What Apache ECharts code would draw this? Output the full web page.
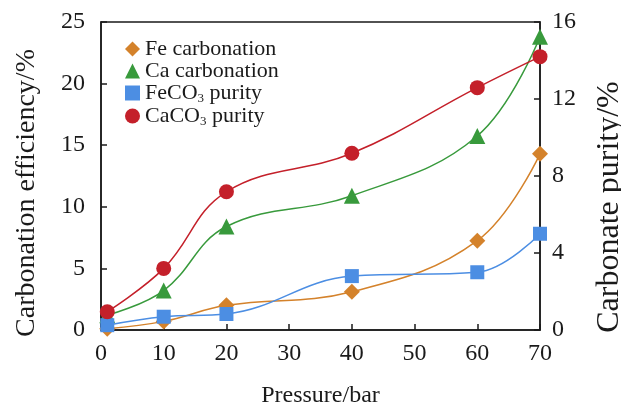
<!DOCTYPE html>
<html><head><meta charset="utf-8">
<script src="https://cdn.jsdelivr.net/npm/echarts@6/dist/echarts.min.js"></script>
<style>html,body{margin:0;padding:0;background:#fff}#c{width:621px;height:412px}</style>
</head><body><div id="c"></div>
<script>
var pressure = [1, 10, 20, 40, 60, 70];
var feCarbonation = [0.1, 0.7, 2.0, 3.1, 7.25, 14.3];
var caCarbonation = [1.2, 3.2, 8.4, 10.9, 15.75, 23.8];
var feco3Purity = [0.25, 0.69, 0.83, 2.8, 3.0, 5.0];
var caco3Purity = [0.95, 3.2, 7.18, 9.18, 12.59, 14.2];
var seriesNames = ['Fe carbonation', 'Ca carbonation', 'FeCO3 purity', 'CaCO3 purity'];

function pairs(ys){ return pressure.map(function(x,i){ return [x, ys[i]]; }); }

var font = '"Liberation Serif","Times New Roman",serif';
var axisColor = '#1a1a1a';

var chart = echarts.init(document.getElementById('c'), null, {renderer:'canvas'});
chart.setOption({
  animation: false,
  backgroundColor: '#fff',
  textStyle: {fontFamily: font},
  grid: {left: 101, right: 81, top: 22, bottom: 82, containLabel: false, outerBoundsMode: 'none',
         show: true, borderColor: axisColor, borderWidth: 1.5},
  legend: {
    orient: 'vertical', left: 120, top: 33, itemGap: 0,
    itemWidth: 15, itemHeight: 15,
    data: [
      {name: seriesNames[0], icon: 'diamond'},
      {name: seriesNames[1], icon: 'triangle'},
      {name: seriesNames[2], icon: 'rect'},
      {name: seriesNames[3], icon: 'circle'}
    ],
    formatter: function(n){
      if (n === 'FeCO3 purity') return '{a|FeCO}{s|3}{a| purity}';
      if (n === 'CaCO3 purity') return '{a|CaCO}{s|3}{a| purity}';
      return '{a|' + n + '}';
    },
    textStyle: {
      fontFamily: font, fontSize: 22, color: '#1a1a1a',
      rich: {
        a: {fontFamily: font, fontSize: 22, lineHeight: 24, color: '#1a1a1a'},
        s: {fontFamily: font, fontSize: 13, lineHeight: 13, verticalAlign: 'bottom', color: '#1a1a1a'}
      }
    }
  },
  xAxis: {
    type: 'value', min: 0, max: 70, interval: 10,
    name: 'Pressure/bar', nameLocation: 'middle', nameGap: 54,
    nameTextStyle: {fontFamily: font, fontSize: 24, color: '#1a1a1a'},
    axisLine: {show: true, onZero: false, lineStyle: {color: axisColor, width: 1.5}},
    axisTick: {show: true, inside: true, length: 6, lineStyle: {color: axisColor, width: 1.5}},
    axisLabel: {fontFamily: font, fontSize: 24, color: '#1a1a1a', margin: 12},
    splitLine: {show: false}
  },
  yAxis: [{
    type: 'value', min: 0, max: 25, interval: 5, position: 'left',
    name: 'Carbonation efficiency/%', nameLocation: 'middle', nameGap: 60, nameRotate: 90,
    nameTextStyle: {fontFamily: font, fontSize: 28, color: '#1a1a1a', padding: [0, 34, 0, 0]},
    axisLine: {show: true, lineStyle: {color: axisColor, width: 1.5}},
    axisTick: {show: true, inside: true, length: 6, lineStyle: {color: axisColor, width: 1.5}},
    axisLabel: {fontFamily: font, fontSize: 24, color: '#1a1a1a', margin: 16},
    splitLine: {show: false}
  }, {
    type: 'value', min: 0, max: 16, interval: 4, position: 'right',
    name: 'Carbonate purity/%', nameLocation: 'middle', nameGap: 54, nameRotate: 90,
    nameTextStyle: {fontFamily: font, fontSize: 32, color: '#1a1a1a', padding: [0, 62, 0, 0]},
    axisLine: {show: true, lineStyle: {color: axisColor, width: 1.5}},
    axisTick: {show: true, inside: true, length: 6, lineStyle: {color: axisColor, width: 1.5}},
    axisLabel: {fontFamily: font, fontSize: 24, color: '#1a1a1a', margin: 12},
    splitLine: {show: false}
  }],
  series: [
    {name: seriesNames[0], type: 'line', yAxisIndex: 0, smooth: 0.4, data: pairs(feCarbonation),
     symbol: 'diamond', symbolSize: 16, color: '#D4822B', lineStyle: {width: 1.5, color: '#D4822B'}, z: 3},
    {name: seriesNames[1], type: 'line', yAxisIndex: 0, smooth: 0.4, data: pairs(caCarbonation),
     symbol: 'triangle', symbolSize: 16, color: '#389A3C', lineStyle: {width: 1.5, color: '#389A3C'}, z: 3},
    {name: seriesNames[2], type: 'line', yAxisIndex: 1, smooth: 0.4, data: pairs(feco3Purity),
     symbol: 'rect', symbolSize: 14, color: '#4C8EE3', lineStyle: {width: 1.5, color: '#4C8EE3'}, z: 4},
    {name: seriesNames[3], type: 'line', yAxisIndex: 1, smooth: 0.4, data: pairs(caco3Purity),
     symbol: 'circle', symbolSize: 15, color: '#C4202A', lineStyle: {width: 1.5, color: '#C4202A'}, z: 4}
  ]
});
</script>
</body></html>
